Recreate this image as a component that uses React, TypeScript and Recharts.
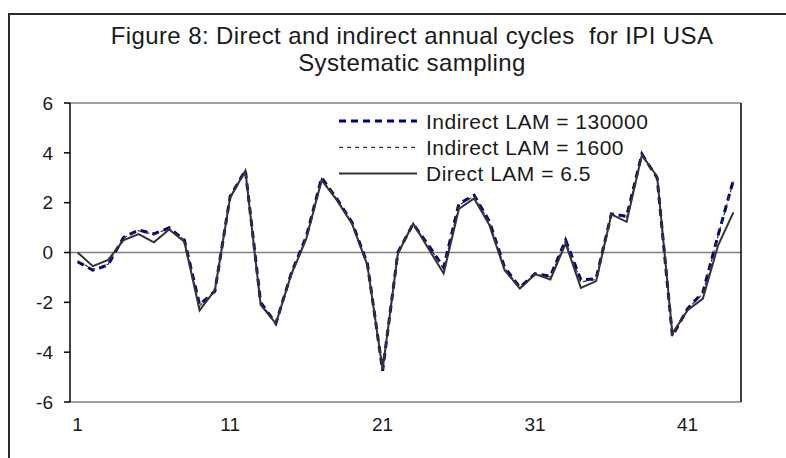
import React from "react";
import { LineChart, Line, XAxis, YAxis, ReferenceLine, Legend } from "recharts";

const periods: number[] = Array.from({ length: 44 }, (_, i) => i + 1);

const indirect130000: number[] = [
  -0.37, -0.71, -0.5, 0.6, 0.9, 0.75, 0.99, 0.5, -2.1, -1.55,
  2.25, 3.3, -2.0, -2.85, -0.85, 0.65, 3.0, 2.15, 1.2, -0.45,
  -4.75, 0.0, 1.15, 0.3, -0.6, 1.95, 2.3, 1.25, -0.6, -1.4,
  -0.85, -0.95, 0.5, -1.1, -1.05, 1.55, 1.45, 3.95, 3.0, -3.35,
  -2.25, -1.6, 0.7, 2.9,
];

const indirect1600: number[] = [
  -0.33, -0.68, -0.47, 0.58, 0.88, 0.72, 0.97, 0.5, -2.15, -1.55,
  2.22, 3.28, -2.02, -2.85, -0.87, 0.62, 2.97, 2.13, 1.18, -0.47,
  -4.72, -0.02, 1.15, 0.27, -0.65, 1.9, 2.27, 1.22, -0.63, -1.42,
  -0.86, -0.98, 0.46, -1.18, -1.08, 1.54, 1.4, 3.93, 3.02, -3.32,
  -2.27, -1.65, 0.68, 2.85,
];

const direct: number[] = [
  0, -0.55, -0.3, 0.49, 0.74, 0.41, 0.92, 0.43, -2.32, -1.51,
  2.2, 3.28, -2.1, -2.85, -0.9, 0.56, 2.9, 2.1, 1.15, -0.51,
  -4.7, -0.04, 1.16, 0.16, -0.84, 1.75, 2.17, 1.1, -0.71, -1.45,
  -0.87, -1.08, 0.36, -1.42, -1.15, 1.53, 1.23, 3.91, 3.05, -3.25,
  -2.32, -1.85, 0.29, 1.61,
];

const seriesNames: string[] = [
  "Indirect LAM = 130000",
  "Indirect LAM = 1600",
  "Direct LAM = 6.5",
];

const xTicks: number[] = [1, 11, 21, 31, 41];
const yTicks: number[] = [-6, -4, -2, 0, 2, 4, 6];

const titleLines: string[] = [
  "Figure 8: Direct and indirect annual cycles\u00a0 for IPI USA",
  "Systematic sampling",
];

const data = periods.map((p, i) => ({
  x: p,
  a: indirect130000[i],
  b: indirect1600[i],
  c: direct[i],
}));

const FONT = "'Liberation Sans', Arial, Helvetica, sans-serif";

const LegendContent = (props: any) => {
  const payload = [...(props.payload || [])].sort(
    (p: any, q: any) => seriesNames.indexOf(p.value) - seriesNames.indexOf(q.value)
  );
  return (
    <svg width={380} height={84} style={{ display: "block" }}>
      {payload.map((entry: any, i: number) => {
        const cy = 16 + i * 26.3;
        const p = entry.payload || {};
        return (
          <g key={i}>
            <line
              x1={9}
              x2={87}
              y1={cy}
              y2={cy}
              stroke={p.stroke || entry.color}
              strokeWidth={p.strokeWidth || 1}
              strokeDasharray={p.strokeDasharray}
            />
            <text
              x={96}
              y={cy + 7.5}
              fontSize={21}
              letterSpacing={0.5}
              fontFamily={FONT}
              fill="#1a1a1a"
            >
              {entry.value}
            </text>
          </g>
        );
      })}
    </svg>
  );
};

export default function App() {
  return (
    <div
      style={{
        position: "absolute",
        left: 0,
        top: 0,
        width: 786,
        height: 458,
        overflow: "hidden",
        background: "#fff",
      }}
    >
      <div
        style={{
          position: "absolute",
          left: 8,
          top: 13,
          width: 900,
          height: 700,
          border: "2px solid #2a2a2a",
          pointerEvents: "none",
        }}
      />
      <svg
        width={786}
        height={100}
        style={{ position: "absolute", left: 0, top: 0, pointerEvents: "none" }}
      >
        {titleLines.map((t, i) => (
          <text
            key={i}
            x={412}
            y={44 + i * 27}
            textAnchor="middle"
            fontSize={24}
            letterSpacing={0.4}
            fontFamily={FONT}
            fill="#1a1a1a"
          >
            {t}
          </text>
        ))}
      </svg>
      <div style={{ position: "absolute", left: 0, top: 0 }}>
        <LineChart
          width={786}
          height={458}
          data={data}
          margin={{ top: 103, right: 5, bottom: 26, left: 10 }}
        >
          <XAxis
            dataKey="x"
            type="number"
            domain={[0.5, 44.5]}
            ticks={xTicks}
            axisLine={false}
            tickLine={false}
            tickSize={6}
            tickMargin={10}
            height={30}
            interval={0}
            tick={{ fontSize: 19, fontFamily: FONT, fill: "#1a1a1a" }}
          />
          <YAxis
            yAxisId="left"
            domain={[-6, 6]}
            ticks={yTicks}
            width={60}
            axisLine={{ stroke: "#000", strokeWidth: 1.5 }}
            tickLine={{ stroke: "#000", strokeWidth: 1.5 }}
            tickSize={6}
            tickMargin={11}
            interval={0}
            tick={{ fontSize: 19, fontFamily: FONT, fill: "#1a1a1a" }}
          />
          <YAxis
            yAxisId="right"
            orientation="right"
            domain={[-6, 6]}
            ticks={yTicks}
            width={40}
            axisLine={{ stroke: "#000", strokeWidth: 1.5 }}
            tickLine={{ stroke: "#000", strokeWidth: 1.5 }}
            tickSize={6}
            tickMargin={11}
            interval={0}
            tick={{ fontSize: 19, fontFamily: FONT, fill: "#1a1a1a", textAnchor: "start" }}
          />
          <ReferenceLine yAxisId="left" y={6} stroke="#808080" strokeWidth={1.5} />
          <ReferenceLine yAxisId="left" y={0} stroke="#808080" strokeWidth={1.5} />
          <ReferenceLine yAxisId="left" y={-6} stroke="#808080" strokeWidth={1.5} />
          <Legend
            layout="vertical"
            align="center"
            verticalAlign="middle"
            content={<LegendContent />}
            wrapperStyle={{ left: 330, top: 105, width: 380 }}
          />
          <Line
            yAxisId="left"
            dataKey="a"
            name={seriesNames[0]}
            stroke="#000080"
            strokeWidth={3}
            strokeDasharray="7 5"
            dot={false}
            isAnimationActive={false}
          />
          <Line
            yAxisId="left"
            dataKey="b"
            name={seriesNames[1]}
            stroke="#333333"
            strokeWidth={1.2}
            strokeDasharray="4 4"
            dot={false}
            isAnimationActive={false}
          />
          <Line
            yAxisId="left"
            dataKey="c"
            name={seriesNames[2]}
            stroke="#333333"
            strokeWidth={2}
            dot={false}
            isAnimationActive={false}
          />
        </LineChart>
      </div>
    </div>
  );
}
